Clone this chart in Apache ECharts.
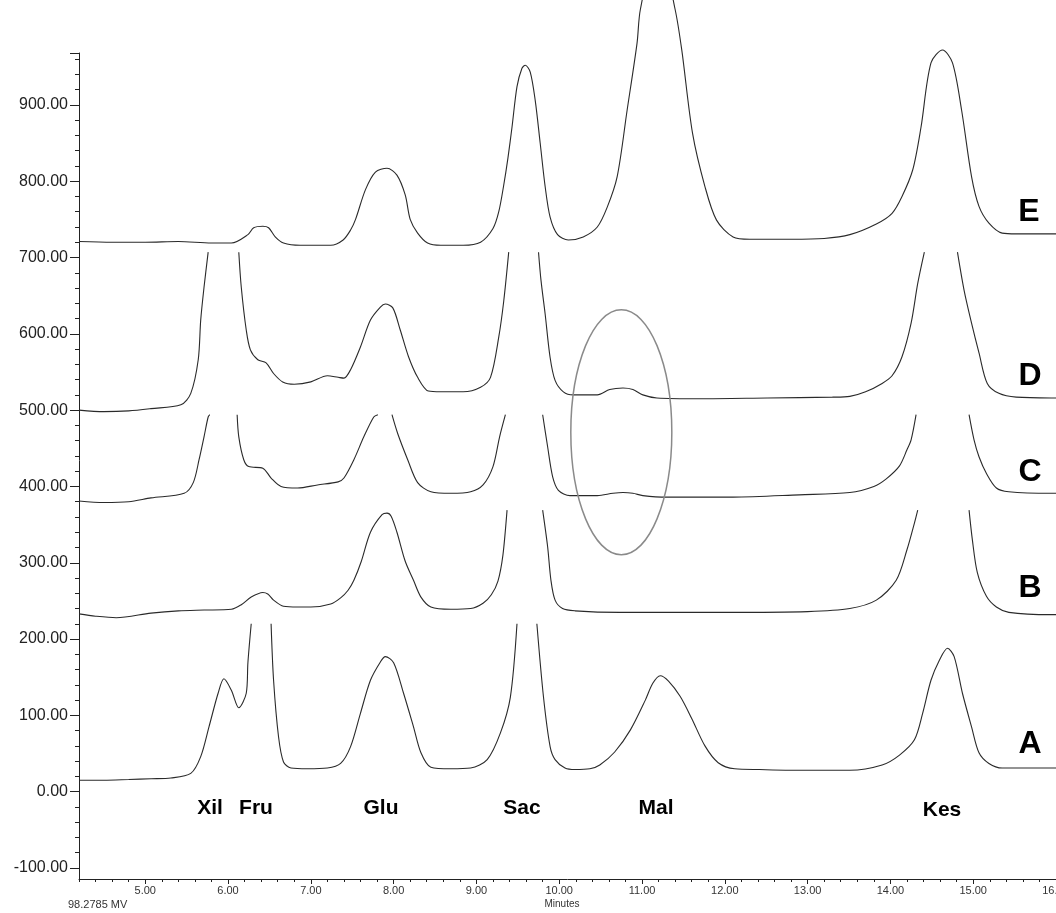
<!DOCTYPE html>
<html>
<head>
<meta charset="utf-8">
<script src="https://cdn.jsdelivr.net/npm/echarts@6/dist/echarts.min.js"></script>
<style>
html,body{margin:0;padding:0;background:#fff;}
#chart{width:1056px;height:913px;}
</style>
</head>
<body>
<div id="chart"></div>
<script>
// ---- Data (time in minutes, response in MV); null = trace clipped by the overlay ----
const traceNames = ['A', 'B', 'C', 'D', 'E'];
const peakNames = ['Xil', 'Fru', 'Glu', 'Sac', 'Mal', 'Kes'];
const yTickLabels = [-100, 0, 100, 200, 300, 400, 500, 600, 700, 800, 900];
const xTickLabels = [5, 6, 7, 8, 9, 10, 11, 12, 13, 14, 15, 16];

const traceE = [
  [4.20,721],[4.60,720],[5.00,720],[5.40,721],[5.80,719],[6.04,719],[6.24,730],[6.31,739],[6.42,741],[6.49,739],
  [6.57,727],[6.67,719],[6.87,716],[7.05,716],[7.24,716],[7.39,723],[7.48,736],[7.54,750],[7.66,789],[7.78,812],
  [7.92,817],[8.04,808],[8.14,782],[8.20,750],[8.29,732],[8.41,719],[8.57,716],[8.84,716],[9.05,720],[9.20,738],
  [9.27,760],[9.33,795],[9.38,830],[9.43,871],[9.49,924],[9.55,948],[9.59,952],[9.65,943],[9.71,906],[9.77,850],
  [9.83,793],[9.89,753],[9.98,730],[10.11,723],[10.29,727],[10.46,740],[10.58,766],[10.70,806],[10.82,893],[10.94,981],
  [10.98,1025],[11.19,1117],[11.40,1025],[11.48,972],[11.61,863],[11.76,793],[11.90,749],[12.10,727],[12.30,724],[12.80,724],
  [13.20,725],[13.51,730],[13.83,744],[14.02,758],[14.14,780],[14.27,815],[14.37,871],[14.49,955],[14.63,972],[14.75,955],
  [14.86,893],[14.98,806],[15.07,767],[15.19,745],[15.35,732],[15.52,731],[15.94,731],[16.00,731]
];
const traceD = [
  [4.20,500],[4.50,498],[4.80,499],[5.07,502],[5.43,507],[5.55,522],[5.64,566],[5.67,618],[5.71,661],[5.76,707],
  [5.95,null],
  [6.13,707],[6.16,661],[6.22,605],[6.27,579],[6.36,566],[6.46,562],[6.55,548],[6.66,537],[6.80,534],[7.00,537],
  [7.20,545],[7.33,543],[7.40,542],[7.48,553],[7.60,583],[7.72,618],[7.84,635],[7.90,639],[7.99,634],[8.08,605],
  [8.18,570],[8.29,543],[8.42,525],[8.57,524],[8.84,524],[9.05,530],[9.17,543],[9.27,596],[9.33,643],[9.39,707],
  [9.57,null],
  [9.75,707],[9.78,670],[9.83,626],[9.89,569],[9.95,539],[10.05,524],[10.17,520],[10.46,520],[10.61,527],[10.77,529],
  [10.89,527],[11.01,520],[11.18,516],[11.70,515],[12.51,516],[13.30,517],[13.51,518],[13.70,524],[13.90,535],[14.02,545],
  [14.14,570],[14.25,614],[14.33,666],[14.41,707],
  [14.61,null],
  [14.81,707],[14.89,657],[14.98,614],[15.07,575],[15.17,535],[15.31,522],[15.52,517],[15.94,516],[16.00,516]
];
const traceC = [
  [4.20,381],[4.50,379],[4.80,380],[5.07,385],[5.47,391],[5.58,405],[5.65,435],[5.71,465],[5.76,491],[5.78,494],
  [5.95,null],
  [6.11,494],[6.13,465],[6.19,435],[6.25,426],[6.42,424],[6.52,411],[6.64,400],[6.84,398],[7.08,402],[7.33,406],
  [7.40,411],[7.52,435],[7.64,465],[7.76,491],[7.81,494],
  [7.90,null],
  [7.98,494],[8.05,469],[8.17,435],[8.29,405],[8.45,393],[8.69,391],[8.93,393],[9.08,402],[9.20,426],[9.28,465],
  [9.35,494],
  [9.57,null],
  [9.80,494],[9.86,452],[9.92,413],[9.99,395],[10.13,388],[10.46,388],[10.65,391],[10.77,392],[10.89,391],[11.01,388],
  [11.30,386],[12.10,386],[12.90,389],[13.51,392],[13.80,400],[13.95,410],[14.11,427],[14.20,448],[14.25,461],[14.31,494],
  [14.63,null],
  [14.95,494],[15.01,461],[15.07,439],[15.16,417],[15.28,398],[15.43,393],[15.94,391],[16.00,391]
];
const traceB = [
  [4.20,233],[4.40,230],[4.65,228],[5.07,234],[5.40,237],[5.71,238],[6.04,239],[6.16,245],[6.28,255],[6.42,261],
  [6.48,259],[6.55,251],[6.67,243],[6.84,242],[7.00,242],[7.24,246],[7.36,254],[7.45,264],[7.52,277],[7.61,302],
  [7.72,340],[7.86,363],[7.92,365],[7.97,361],[8.04,340],[8.14,302],[8.24,277],[8.33,255],[8.45,242],[8.69,239],
  [8.93,240],[9.08,247],[9.18,258],[9.26,276],[9.32,310],[9.37,369],
  [9.58,null],
  [9.80,369],[9.86,321],[9.90,277],[9.95,251],[10.04,240],[10.19,237],[10.73,235],[12.00,235],[13.00,236],[13.51,240],
  [13.83,251],[14.07,277],[14.20,317],[14.29,352],[14.33,369],
  [14.64,null],
  [14.95,369],[14.99,330],[15.05,287],[15.16,256],[15.28,242],[15.43,235],[15.94,232],[16.00,232]
];
const traceA = [
  [4.20,15],[4.50,15],[4.80,16],[5.07,17],[5.31,18],[5.55,24],[5.67,46],[5.77,85],[5.88,129],[5.95,148],
  [6.04,133],[6.13,110],[6.22,129],[6.24,169],[6.28,220],
  [6.40,null],
  [6.52,220],[6.55,146],[6.61,72],[6.67,39],[6.76,31],[6.96,30],[7.20,31],[7.36,37],[7.48,59],[7.60,103],
  [7.72,146],[7.84,170],[7.90,177],[8.00,169],[8.12,129],[8.24,85],[8.33,51],[8.45,32],[8.69,30],[8.93,31],
  [9.13,42],[9.29,77],[9.41,124],[9.49,220],
  [9.61,null],
  [9.73,220],[9.81,124],[9.89,59],[9.95,42],[10.07,31],[10.19,29],[10.37,30],[10.49,35],[10.67,52],[10.86,81],
  [11.04,120],[11.13,142],[11.22,152],[11.32,145],[11.46,125],[11.60,96],[11.76,60],[11.92,38],[12.12,30],[12.42,29],
  [13.00,28],[13.51,28],[13.90,35],[14.11,48],[14.29,68],[14.39,103],[14.49,146],[14.59,172],[14.69,188],[14.77,177],
  [14.87,129],[14.98,85],[15.07,51],[15.19,37],[15.35,31],[15.59,31],[15.94,31],[16.00,31]
];
const traces = [traceA, traceB, traceC, traceD, traceE];

// ---- Chart ----
const chart = echarts.init(document.getElementById('chart'), null, {renderer: 'canvas'});
const lineColor = '#2a2a2a';
const axisColor = '#222';
const fontFam = 'Arial, "Liberation Sans", sans-serif';

const X_MIN = 4.2, X_MAX = 16, Y_MIN = -100, Y_MAX = 968;
const G_LEFT = 79, G_TOP = 53, G_BOTTOM = 45, W = 1056;
// second grid (labels/major ticks) starts at x = 5.00 so its ticks land on whole minutes
const pxPerMin = (W - G_LEFT) / (X_MAX - X_MIN);
const G2_LEFT = G_LEFT + (xTickLabels[0] - X_MIN) * pxPerMin;

const series = traces.map((d, i) => ({
  name: traceNames[i],
  type: 'line',
  xAxisIndex: 0, yAxisIndex: 0,
  data: d,
  showSymbol: false,
  clip: false,
  connectNulls: false,
  smooth: 0.3,
  lineStyle: {color: lineColor, width: 1.1},
  emphasis: {disabled: true},
  silent: true
}));

chart.setOption({
  animation: false,
  backgroundColor: '#fff',
  grid: [
    {left: G_LEFT, right: 0, top: G_TOP, bottom: G_BOTTOM, containLabel: false, outerBoundsMode: 'none'},
    {left: G2_LEFT, right: 0, top: G_TOP, bottom: G_BOTTOM, containLabel: false, outerBoundsMode: 'none'}
  ],
  xAxis: [
    {
      gridIndex: 0, type: 'value', min: X_MIN, max: X_MAX, interval: 0.2, offset: 11,
      axisLine: {show: true, onZero: false, lineStyle: {color: axisColor, width: 1}},
      axisTick: {show: true, length: 3, lineStyle: {color: axisColor}},
      splitLine: {show: false},
      axisLabel: {show: false}
    },
    {
      gridIndex: 1, type: 'value', min: xTickLabels[0], max: X_MAX, interval: 1, offset: 11,
      axisLine: {show: false, onZero: false},
      axisTick: {show: true, length: 5, lineStyle: {color: axisColor}},
      splitLine: {show: false},
      axisLabel: {
        fontSize: 11, color: '#333', margin: 6, fontFamily: fontFam,
        showMinLabel: true, showMaxLabel: true, hideOverlap: false,
        formatter: v => xTickLabels.some(t => Math.abs(t - v) < 1e-6) ? v.toFixed(2) : ''
      }
    }
  ],
  yAxis: [
    {
      gridIndex: 0, type: 'value', min: Y_MIN, max: Y_MAX, interval: 100,
      axisLine: {show: true, onZero: false, lineStyle: {color: axisColor, width: 1}},
      axisTick: {show: true, length: 9, lineStyle: {color: axisColor}},
      minorTick: {show: true, splitNumber: 5, length: 4, lineStyle: {color: axisColor}},
      splitLine: {show: false},
      axisLabel: {
        fontSize: 16, color: '#222', margin: 11, fontFamily: fontFam,
        formatter: v => yTickLabels.some(t => Math.abs(t - v) < 1e-6) ? v.toFixed(2) : ''
      }
    },
    {
      gridIndex: 1, type: 'value', min: Y_MIN, max: Y_MAX, show: false
    }
  ],
  series: series
});

// ---- Annotations ----
function px(t, v) { return chart.convertToPixel({gridIndex: 0}, [t, v]); }
const c = px(10.75, 471);
const e1 = px(10.75 + 0.61, 471 + 160.5);
const rx = e1[0] - c[0], ry = c[1] - e1[1];
const yBottom = px(X_MIN, Y_MIN)[1];

const boldText = (text, x, y, size) => ({
  type: 'text', x: x, y: y,
  style: {text: text, fontSize: size, fontWeight: 'bold', fontFamily: fontFam, fill: '#000', align: 'center', verticalAlign: 'middle'},
  silent: true
});

const traceLabelPos = [[1030, 744], [1030, 588], [1030, 472], [1030, 376], [1029, 212]];
const peakLabelPos = [[210, 808], [256, 808], [381, 808], [522, 808], [656, 808], [942, 810]];

const graphics = [
  {type: 'ellipse', shape: {cx: c[0], cy: c[1], rx: rx, ry: ry},
   style: {fill: null, stroke: '#8a8a8a', lineWidth: 1.5}, silent: true, z: 10},
  {type: 'line', shape: {x1: G_LEFT + 0.5, y1: yBottom, x2: G_LEFT + 0.5, y2: yBottom + 11},
   style: {stroke: axisColor, lineWidth: 1}, silent: true},
  {type: 'text', x: 562, y: 904, style: {text: 'Minutes', fontSize: 10, fontFamily: fontFam, fill: '#333', align: 'center', verticalAlign: 'middle'}},
  {type: 'text', x: 68, y: 905, style: {text: '98.2785 MV', fontSize: 11, fontFamily: fontFam, fill: '#333', align: 'left', verticalAlign: 'middle'}}
];
traceNames.forEach((n, i) => graphics.push(boldText(n, traceLabelPos[i][0], traceLabelPos[i][1], 32)));
peakNames.forEach((n, i) => graphics.push(boldText(n, peakLabelPos[i][0], peakLabelPos[i][1], 21)));

chart.setOption({graphic: graphics});
</script>
</body>
</html>
